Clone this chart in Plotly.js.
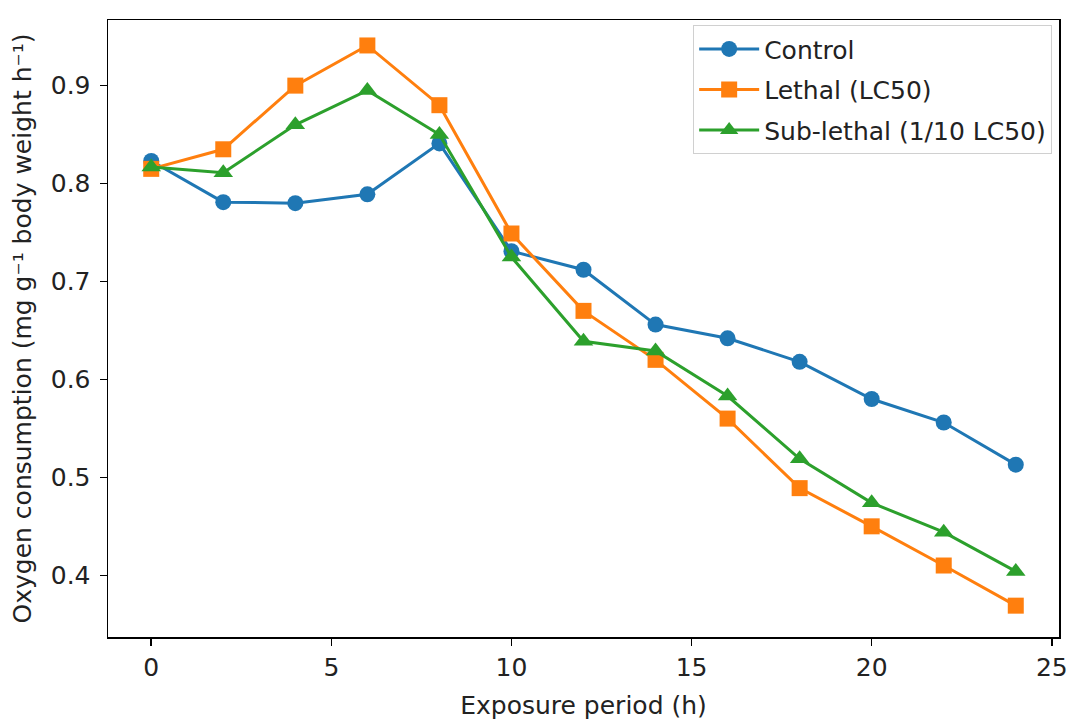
<!DOCTYPE html>
<html>
<head>
<meta charset="utf-8">
<script src="https://cdn.plot.ly/plotly-3.0.1.min.js"></script>
<style>html,body{margin:0;padding:0;background:#fff;}#chart{width:1078px;height:722px;}</style>
</head>
<body>
<div id="chart"></div>
<script>
const hours = [0, 2, 4, 6, 8, 10, 12, 14, 16, 18, 20, 22, 24];
const control = [0.823, 0.781, 0.780, 0.789, 0.841, 0.731, 0.712, 0.656, 0.642, 0.618, 0.580, 0.556, 0.513];
const lethal = [0.815, 0.835, 0.900, 0.941, 0.880, 0.749, 0.670, 0.620, 0.560, 0.489, 0.450, 0.410, 0.369];
const sublethal = [0.817, 0.811, 0.860, 0.895, 0.850, 0.725, 0.639, 0.629, 0.583, 0.519, 0.474, 0.444, 0.404];
const seriesNames = ["Control", "Lethal (LC50)", "Sub-lethal (1/10 LC50)"];

const colors = ["#1f77b4", "#ff7f0e", "#2ca02c"];
const symbols = ["circle", "square", "triangle-up"];
const data = [control, lethal, sublethal].map((ys, i) => ({
  x: hours, y: ys, name: seriesNames[i], type: "scatter", mode: "lines+markers",
  legendgroup: "g" + i,
  line: {color: colors[i], width: 3},
  marker: {symbol: symbols[i], size: i === 2 ? 17 : 16, color: colors[i]}
}));

const font = {family: "DejaVu Sans, sans-serif", size: 25, color: "#222"};
const layout = {
  width: 1078, height: 722,
  margin: {l: 108, r: 19, t: 20, b: 85},
  paper_bgcolor: "#fff", plot_bgcolor: "#fff",
  font: font,
  showlegend: true,
  legend: {x: 0.9926, y: 0.992, xanchor: "right", yanchor: "top",
    bgcolor: "rgba(255,255,255,0.8)", bordercolor: "#d0d0d0", borderwidth: 1.2,
    font: {family: "DejaVu Sans, sans-serif", size: 25, color: "#222"},
    tracegroupgap: 5, itemwidth: 60},
  xaxis: {range: [-1.2, 25.2], tickvals: [0, 5, 10, 15, 20, 25],
    showgrid: false, zeroline: false, showline: true, mirror: true,
    linecolor: "#000", linewidth: 1.5, ticks: "outside", ticklen: 7, tickwidth: 1.5, tickcolor: "#000",
    title: {text: "Exposure period (h)", font: font, standoff: 16}},
  yaxis: {range: [0.337, 0.967], tickvals: [0.4, 0.5, 0.6, 0.7, 0.8, 0.9],
    tickformat: ".1f", ticklabelstandoff: 4,
    showgrid: false, zeroline: false, showline: true, mirror: true,
    linecolor: "#000", linewidth: 1.5, ticks: "outside", ticklen: 7, tickwidth: 1.5, tickcolor: "#000",
    title: {text: "Oxygen consumption (mg g⁻¹ body weight h⁻¹)", font: font, standoff: 12}}
};
Plotly.newPlot("chart", data, layout, {displayModeBar: false, staticPlot: true});
</script>
</body>
</html>
